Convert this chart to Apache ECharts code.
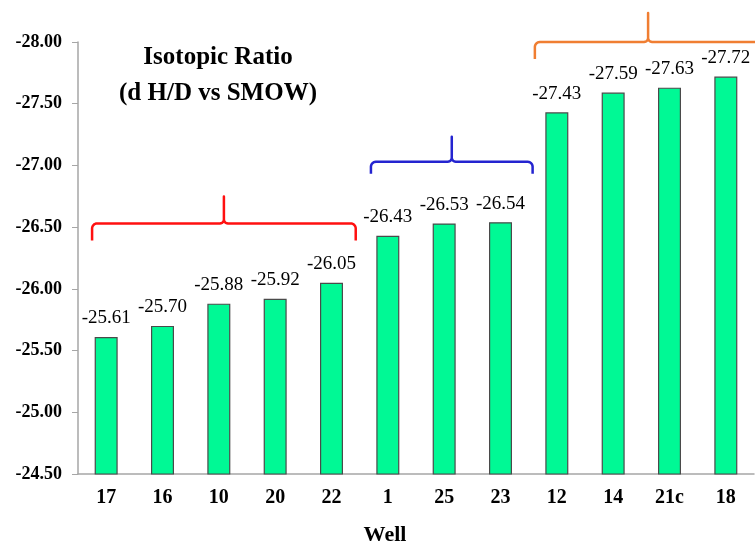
<!DOCTYPE html>
<html>
<head>
<meta charset="utf-8">
<script src="https://cdn.jsdelivr.net/npm/echarts@6/dist/echarts.min.js"></script>
<style>
  html, body { margin: 0; padding: 0; background: #fff; }
  #chart { width: 755px; height: 544px; }
</style>
</head>
<body>
<div id="chart"></div>
<script>
// wells along the x axis
const wells = ["17", "16", "10", "20", "22", "1", "25", "23", "12", "14", "21c", "18"];
// isotopic ratio d H/D vs SMOW
const ratios = [-25.61, -25.70, -25.88, -25.92, -26.05, -26.43, -26.53, -26.54, -27.43, -27.59, -27.63, -27.72];
// y axis range / step
const yMin = -28.0;
const yMax = -24.5;
const yStep = 0.5;

const serif = "'Liberation Serif', 'Times New Roman', serif";

const chart = echarts.init(document.getElementById("chart"));

const option = {
  animation: false,
  grid: { left: 78, right: 1, top: 42, bottom: 70, outerBoundsMode: "none", containLabel: false },
  xAxis: {
    type: "category",
    data: wells,
    name: "Well",
    nameLocation: "middle",
    nameGap: 50,
    nameTextStyle: {
      fontFamily: serif,
      fontWeight: "bold",
      fontSize: 22,
      color: "#000",
      padding: [0, 62, 0, 0],
    },
    axisLine: { lineStyle: { color: "#A6A6A6", width: 1.5 } },
    axisTick: { inside: true, length: 6, lineStyle: { color: "#A6A6A6" } },
    axisLabel: {
      fontFamily: serif,
      fontWeight: "bold",
      fontSize: 20,
      color: "#000",
      margin: 14,
    },
  },
  yAxis: {
    type: "value",
    inverse: true,
    min: yMin,
    max: yMax,
    interval: yStep,
    axisLine: { show: true, lineStyle: { color: "#A6A6A6", width: 1.5 } },
    axisTick: { show: true, length: 6, lineStyle: { color: "#A6A6A6" } },
    splitLine: { show: false },
    axisLabel: {
      fontFamily: serif,
      fontWeight: "bold",
      fontSize: 18,
      color: "#000",
      margin: 16,
      formatter: (v) => v.toFixed(2),
    },
  },
  series: [
    {
      type: "bar",
      data: ratios,
      barWidth: 23,
      itemStyle: {
        color: "#00F995",
        borderColor: "#4A4A4A",
        borderWidth: 1.2,
      },
      label: {
        show: true,
        position: "top",
        distance: 9,
        fontFamily: serif,
        fontSize: 19,
        color: "#000",
        formatter: (p) => p.value.toFixed(2),
      },
    },
  ],
};
chart.setOption(option);

// quarter-circle points from (cx,cy) radius r, angles a0..a1
function arcPts(cx, cy, r, a0, a1) {
  const pts = [];
  for (let k = 0; k <= 6; k++) {
    const a = a0 + ((a1 - a0) * k) / 6;
    pts.push([cx + r * Math.cos(a), cy + r * Math.sin(a)]);
  }
  return pts;
}

// curly braces grouping the wells (position in category units, level in axis units)
function brace(from, to, level, hook, spike, color) {
  const p0 = chart.convertToPixel({ xAxisIndex: 0 }, 0);
  const p1 = chart.convertToPixel({ xAxisIndex: 0 }, 1);
  const band = p1 - p0;
  const x0 = p0 + from * band;
  const x1 = p0 + to * band;
  const y = chart.convertToPixel({ yAxisIndex: 0 }, level);
  const xm = (x0 + x1) / 2;
  const r = 5;
  const s = 4;
  const PI = Math.PI;
  let pts = [[x0, y + hook]];
  pts = pts.concat(arcPts(x0 + r, y + r, r, PI, 1.5 * PI));
  pts = pts.concat(arcPts(xm - s, y - s, s, 0.5 * PI, 0));
  pts.push([xm, y - spike]);
  pts = pts.concat(arcPts(xm + s, y - s, s, PI, 0.5 * PI));
  pts = pts.concat(arcPts(x1 - r, y + r, r, 1.5 * PI, 2 * PI));
  pts.push([x1, y + hook]);
  return {
    type: "polyline",
    shape: { points: pts },
    style: { fill: null, stroke: color, lineWidth: 2.5, lineJoin: "round" },
  };
}

chart.setOption({
  graphic: [
    brace(-0.25, 4.43, -26.53, 17, 27, "#FF1010"),
    brace(4.70, 7.57, -27.03, 12, 25, "#2424D0"),
    brace(7.61, 11.63, -28.0, 17, 29, "#F07E32"),
    {
      type: "text",
      x: 218,
      y: 40,
      style: {
        text: "Isotopic Ratio\n(d H/D vs SMOW)",
        align: "center",
        font: "bold 25px " + serif,
        lineHeight: 36,
        fill: "#000",
      },
    },
  ],
});
</script>
</body>
</html>
